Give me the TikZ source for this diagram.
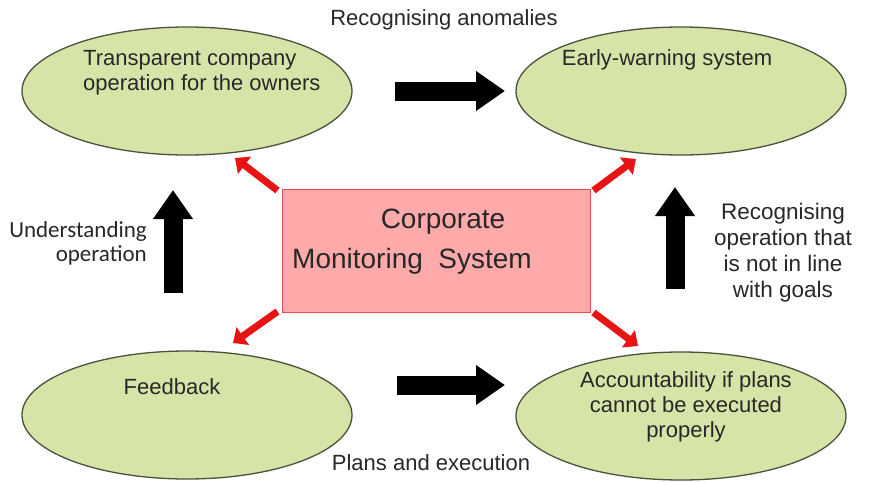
\documentclass[tikz,border=0pt]{standalone}
\usepackage{fontspec}
\setmainfont{Liberation Sans}
\newfontfamily\calib{Carlito}
\usetikzlibrary{shapes.geometric,arrows.meta}
\definecolor{ellfill}{RGB}{215,228,168}
\definecolor{elldraw}{RGB}{75,82,60}
\definecolor{rectfill}{RGB}{255,170,170}
\definecolor{rectdraw}{RGB}{225,80,80}
\definecolor{redarr}{RGB}{232,20,20}
\definecolor{txt}{RGB}{40,40,40}
\begin{document}
\begin{tikzpicture}[x=1pt,y=-1pt,
  oval/.style={ellipse, draw=elldraw, line width=1.3pt, fill=ellfill,
    minimum width=330pt, minimum height=128pt, inner sep=0pt},
  lbl/.style={font=\fontsize{22}{25}\selectfont, text=txt, inner sep=0pt},
  bigarrow/.style={draw=black, line width=19pt, -{Triangle[length=29pt,width=38pt]}},
  redarrow/.style={draw=redarr, color=redarr, line width=7pt, -{Triangle[length=12pt,width=21pt]}},
]
\useasboundingbox (0,0) rectangle (870,482);
\fill[white] (0,0) rectangle (870,482);

% ellipses
\node[oval] (tl) at (187,91) {};
\node[oval] (tr) at (681,91) {};
\node[oval] (bl) at (187,415) {};
\node[oval] (br) at (681,416) {};

% centre box
\node[draw=rectdraw, fill=rectfill, line width=1pt, minimum width=308pt,
  minimum height=123pt, inner sep=0pt] (cms) at (436,250.5) {};
\node[font=\fontsize{28}{32}\selectfont, text=txt, inner sep=0pt] (cmsa) at (443,222) {Corporate};
\node[font=\fontsize{28}{32}\selectfont, text=txt, inner sep=0pt, anchor=west] (cmsb) at (292,261) {Monitoring\ \ System};

% ellipse texts
\node[lbl, align=left, anchor=west] (tlt) at (83,72.5) {Transparent company\\operation for the owners};
\node[lbl] (trt) at (667,60) {Early-warning system};
\node[lbl] (blt) at (172,387) {Feedback};
\node[lbl, align=center] (brt) at (686,407) {Accountability if plans\\cannot be executed\\properly};

% free labels
\node[lbl] (anom) at (444,20) {Recognising anomalies};
\node[lbl] (plans) at (431,463) {Plans and execution};
\node[lbl, font=\calib\fontsize{23}{24}\selectfont, align=right, anchor=east] (under) at (147,243.5) {Understanding\\operation};
\node[lbl, font=\fontsize{22.5}{26}\selectfont, align=center] (recop) at (783,253) {Recognising\\operation that\\is not in line\\with goals};

% black arrows
\coordinate (h1s) at (395,91);  \coordinate (h1e) at (505,91);
\coordinate (h2s) at (397,385); \coordinate (h2e) at (505,385);
\coordinate (v1s) at (173,293); \coordinate (v1e) at (173,190);
\coordinate (v2s) at (675,289); \coordinate (v2e) at (675,187);
\draw[bigarrow] (h1s) -- (h1e);
\draw[bigarrow] (h2s) -- (h2e);
\draw[bigarrow] (v1s) -- (v1e);
\draw[bigarrow] (v2s) -- (v2e);

% red arrows
\coordinate (rtl) at (235,158);
\coordinate (rtr) at (636,159);
\coordinate (rbl) at (233,343);
\coordinate (rbr) at (638,346);
\draw[redarrow] ([shift={(-4,2)}]cms.north west) -- (rtl);
\draw[redarrow] ([shift={(3,2)}]cms.north east) -- (rtr);
\draw[redarrow] ([shift={(-4,-1)}]cms.south west) -- (rbl);
\draw[redarrow] ([shift={(3,0)}]cms.south east) -- (rbr);
\end{tikzpicture}
\end{document}
